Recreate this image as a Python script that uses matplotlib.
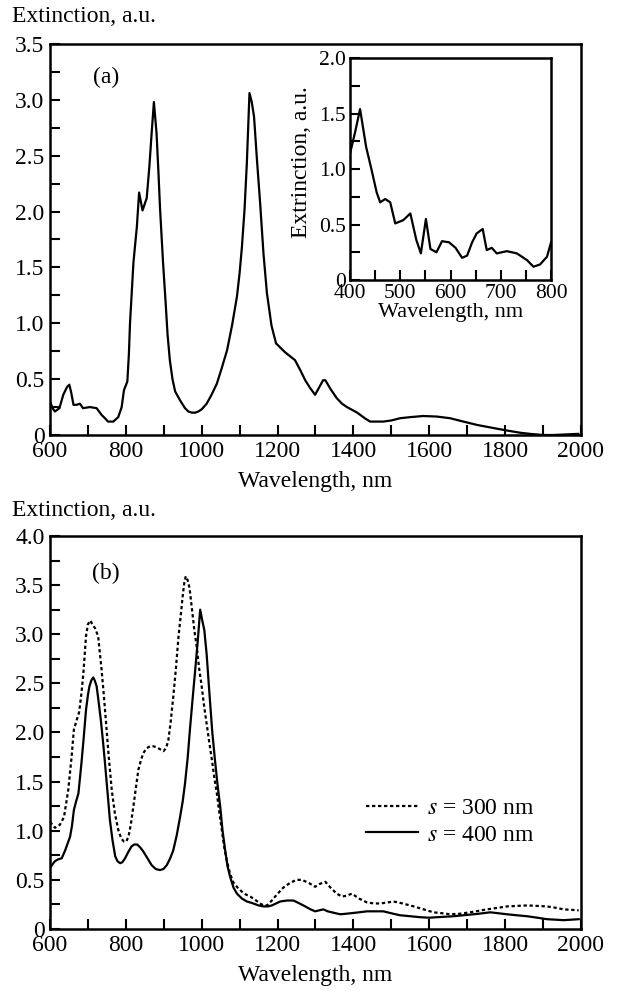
import matplotlib

matplotlib.use("Agg")
import matplotlib.pyplot as plt
import matplotlib.ticker as mticker

plt.rcParams["font.family"] = ["Liberation Serif", "DejaVu Serif"]
plt.rcParams["mathtext.fontset"] = "stix"

# panel (a): extinction spectrum
wl_a = [600, 607, 613, 625, 635, 645, 651, 656, 662, 670, 679, 687, 705, 723,
        736, 745, 753, 767, 780, 789, 795, 804, 808, 811, 816, 820, 825, 829,
        835, 844, 855, 862, 868, 874, 881, 886, 890, 898, 905, 910, 916, 923,
        930, 943, 956, 965, 974, 983, 991, 1000, 1013, 1026, 1040, 1053, 1067,
        1080, 1093, 1100, 1106, 1113, 1119, 1126, 1132, 1138, 1146, 1154, 1163,
        1172, 1184, 1196, 1220, 1246, 1260, 1273, 1286, 1299, 1312, 1320, 1326,
        1340, 1356, 1370, 1383, 1410, 1430, 1444, 1460, 1479, 1500, 1523, 1550,
        1584, 1620, 1655, 1690, 1726, 1765, 1805, 1840, 1866, 1900, 1927, 1960,
        1993]
ext_a = [0.30, 0.24, 0.21, 0.24, 0.36, 0.43, 0.45, 0.38, 0.27, 0.27, 0.28, 0.24,
         0.25, 0.24, 0.18, 0.15, 0.12, 0.12, 0.16, 0.25, 0.40, 0.48, 0.72, 1.00,
         1.30, 1.54, 1.72, 1.86, 2.17, 2.01, 2.12, 2.40, 2.70, 2.98, 2.70, 2.35,
         2.04, 1.55, 1.18, 0.90, 0.67, 0.50, 0.39, 0.31, 0.24, 0.21, 0.20, 0.20,
         0.21, 0.23, 0.28, 0.36, 0.46, 0.60, 0.76, 0.98, 1.24, 1.45, 1.68, 2.02,
         2.43, 3.06, 2.98, 2.85, 2.45, 2.08, 1.62, 1.27, 0.98, 0.82, 0.74, 0.67,
         0.58, 0.49, 0.42, 0.36, 0.44, 0.49, 0.49, 0.41, 0.33, 0.28, 0.25, 0.20,
         0.15, 0.12, 0.12, 0.12, 0.13, 0.15, 0.16, 0.17, 0.165, 0.15, 0.12, 0.09,
         0.065, 0.04, 0.02, 0.01, 0.00, 0.00, 0.005, 0.01]

# inset: short-wavelength part
wl_in = [400, 410, 420, 432, 443, 453, 460, 470, 480, 490, 506, 520, 532, 541,
         551, 560, 572, 583, 597, 610, 623, 633, 643, 652, 664, 672, 682, 692,
         712, 732, 752, 765, 778, 792, 800]
ext_in = [1.14, 1.33, 1.54, 1.20, 0.99, 0.79, 0.70, 0.73, 0.70, 0.51, 0.54, 0.60,
          0.36, 0.24, 0.55, 0.28, 0.25, 0.35, 0.34, 0.29, 0.20, 0.22, 0.34, 0.42,
          0.46, 0.27, 0.29, 0.24, 0.26, 0.24, 0.18, 0.12, 0.14, 0.21, 0.34]

# panel (b): s = 300 nm
wl_300 = [600, 613, 626, 637, 648, 657, 663, 670, 677, 683, 688, 695, 700, 706,
          712, 719, 727, 736, 742, 748, 755, 763, 771, 780, 788, 795, 801, 807,
          813, 820, 827, 833, 840, 846, 855, 864, 872, 881, 890, 899, 906, 912,
          918, 925, 932, 939, 945, 950, 954, 958, 963, 968, 976, 981, 987, 993,
          1000, 1006, 1013, 1020, 1027, 1033, 1040, 1046, 1053, 1059, 1066, 1075,
          1084, 1095, 1106, 1117, 1128, 1140, 1154, 1163, 1172, 1185, 1198, 1215,
          1233, 1250, 1264, 1282, 1299, 1312, 1326, 1340, 1356, 1370, 1383, 1396,
          1415, 1436, 1455, 1471, 1490, 1506, 1530, 1559, 1585, 1611, 1635, 1655,
          1680, 1708, 1730, 1752, 1780, 1805, 1830, 1858, 1885, 1910, 1935, 1954,
          1975, 1994]
ext_300 = [1.09, 1.03, 1.06, 1.14, 1.41, 1.75, 2.03, 2.12, 2.21, 2.40, 2.60, 2.98,
           3.10, 3.14, 3.10, 3.06, 2.98, 2.64, 2.38, 2.09, 1.75, 1.41, 1.18, 1.01,
           0.92, 0.89, 0.89, 0.94, 1.06, 1.25, 1.45, 1.62, 1.72, 1.79, 1.84, 1.86,
           1.86, 1.85, 1.83, 1.81, 1.84, 1.92, 2.10, 2.36, 2.65, 2.98, 3.20, 3.39,
           3.52, 3.59, 3.55, 3.47, 3.20, 3.03, 2.87, 2.66, 2.47, 2.28, 2.09, 1.90,
           1.72, 1.55, 1.38, 1.20, 1.01, 0.84, 0.70, 0.56, 0.47, 0.42, 0.38, 0.35,
           0.33, 0.30, 0.26, 0.24, 0.24, 0.29, 0.35, 0.42, 0.47, 0.50, 0.50, 0.47,
           0.43, 0.46, 0.48, 0.42, 0.36, 0.33, 0.34, 0.36, 0.31, 0.27, 0.26, 0.26,
           0.27, 0.28, 0.26, 0.23, 0.20, 0.17, 0.16, 0.15, 0.155, 0.17, 0.185,
           0.20, 0.215, 0.23, 0.235, 0.24, 0.235, 0.23, 0.215, 0.20, 0.195, 0.19]

# panel (b): s = 400 nm
wl_400 = [600, 607, 613, 622, 631, 640, 653, 658, 663, 669, 675, 683, 689, 695,
          700, 704, 709, 714, 718, 723, 728, 734, 740, 745, 752, 758, 765, 772,
          778, 785, 791, 798, 806, 815, 822, 830, 838, 846, 857, 868, 879, 890,
          899, 908, 917, 925, 934, 943, 950, 956, 963, 969, 976, 983, 990, 996,
          1001, 1007, 1013, 1020, 1028, 1035, 1042, 1049, 1055, 1062, 1068, 1075,
          1084, 1093, 1106, 1119, 1128, 1136, 1150, 1163, 1175, 1185, 1196, 1207,
          1225, 1242, 1258, 1273, 1287, 1299, 1310, 1321, 1332, 1343, 1365, 1380,
          1392, 1415, 1436, 1458, 1479, 1500, 1523, 1550, 1576, 1600, 1620, 1642,
          1664, 1690, 1717, 1740, 1761, 1783, 1805, 1830, 1858, 1885, 1910, 1932,
          1954, 1975, 1994]
ext_400 = [0.62, 0.66, 0.69, 0.71, 0.72, 0.80, 0.94, 1.05, 1.21, 1.30, 1.38, 1.69,
           1.95, 2.23, 2.38, 2.47, 2.53, 2.56, 2.53, 2.47, 2.32, 2.13, 1.90, 1.69,
           1.38, 1.11, 0.90, 0.74, 0.69, 0.67, 0.68, 0.72, 0.78, 0.84, 0.86, 0.86,
           0.83, 0.79, 0.72, 0.65, 0.61, 0.60, 0.61, 0.65, 0.72, 0.80, 0.95, 1.14,
           1.30, 1.48, 1.74, 2.03, 2.34, 2.64, 2.95, 3.25, 3.15, 3.04, 2.80, 2.42,
           2.00, 1.72, 1.46, 1.24, 1.00, 0.80, 0.64, 0.53, 0.42, 0.36, 0.31, 0.28,
           0.27, 0.26, 0.24, 0.23, 0.23, 0.24, 0.26, 0.28, 0.29, 0.29, 0.26, 0.23,
           0.20, 0.18, 0.19, 0.20, 0.18, 0.17, 0.15, 0.155, 0.16, 0.17, 0.18, 0.18,
           0.18, 0.16, 0.14, 0.13, 0.12, 0.115, 0.12, 0.125, 0.13, 0.14, 0.15,
           0.16, 0.17, 0.16, 0.15, 0.14, 0.13, 0.115, 0.10, 0.095, 0.09, 0.095,
           0.10]

FS = 17
FS_IN = 15.5
LW = 1.6


def _yfmt(v, _):
    return "0" if abs(v) < 1e-9 else f"{v:.1f}"


def _style(ax, xmaj, xmin, ymaj, ymin, fs, pad):
    ax.xaxis.set_major_locator(mticker.MultipleLocator(xmaj))
    ax.xaxis.set_minor_locator(mticker.MultipleLocator(xmin))
    ax.yaxis.set_major_locator(mticker.MultipleLocator(ymaj))
    ax.yaxis.set_minor_locator(mticker.MultipleLocator(ymin))
    ax.yaxis.set_major_formatter(mticker.FuncFormatter(_yfmt))
    ax.tick_params(which="both", direction="in", length=7, width=1.5,
                   top=False, right=False, labelsize=fs, pad=pad)
    for sp in ax.spines.values():
        sp.set_linewidth(1.8)


fig = plt.figure(figsize=(6.17, 9.92), dpi=100)

# ---- (a)
ax1 = fig.add_axes([0.0810, 0.5615, 0.8606, 0.3942])
ax1.plot(wl_a, ext_a, color="black", linewidth=LW)
ax1.set_xlim(600, 2000)
ax1.set_ylim(0, 3.5)
_style(ax1, 200, 100, 0.5, 0.25, FS, 4)
ax1.set_xlabel("Wavelength, nm", fontsize=FS, labelpad=7)
ax1.text(748, 3.2, "(a)", fontsize=FS, ha="center", va="center")
fig.text(12 / 617, 1 - 17 / 992, "Extinction, a.u.", fontsize=FS,
         ha="left", va="center")

ins = fig.add_axes([0.5673, 0.7177, 0.3258, 0.2238])
ins.plot(wl_in, ext_in, color="black", linewidth=LW)
ins.set_xlim(400, 800)
ins.set_ylim(0, 2.0)
_style(ins, 100, 50, 0.5, 0.25, FS_IN, 3)
ins.set_xlabel("Wavelength, nm", fontsize=16, labelpad=0)
ins.set_ylabel("Extrinction, a.u.", fontsize=17)
ins.yaxis.set_label_coords(-0.19, 0.53)

# ---- (b)
ax2 = fig.add_axes([0.0810, 0.0635, 0.8606, 0.3962])
ax2.plot(wl_300, ext_300, color="black", linewidth=LW,
         linestyle=(0, (1.5, 1.2)), label="$s$ = 300 nm")
ax2.plot(wl_400, ext_400, color="black", linewidth=LW, label="$s$ = 400 nm")
ax2.set_xlim(600, 2000)
ax2.set_ylim(0, 4.0)
_style(ax2, 200, 100, 0.5, 0.25, FS, 4)
ax2.set_xlabel("Wavelength, nm", fontsize=FS, labelpad=7)
ax2.text(748, 3.62, "(b)", fontsize=FS, ha="center", va="center")
ax2.legend(loc="upper left", bbox_to_anchor=(0.595, 0.335), frameon=False,
           fontsize=FS, handlelength=2.2, handletextpad=0.4,
           labelspacing=0.22, borderpad=0, borderaxespad=0)
fig.text(12 / 617, 1 - 510 / 992, "Extinction, a.u.", fontsize=FS,
         ha="left", va="center")

fig.savefig("out.png", dpi=100)
